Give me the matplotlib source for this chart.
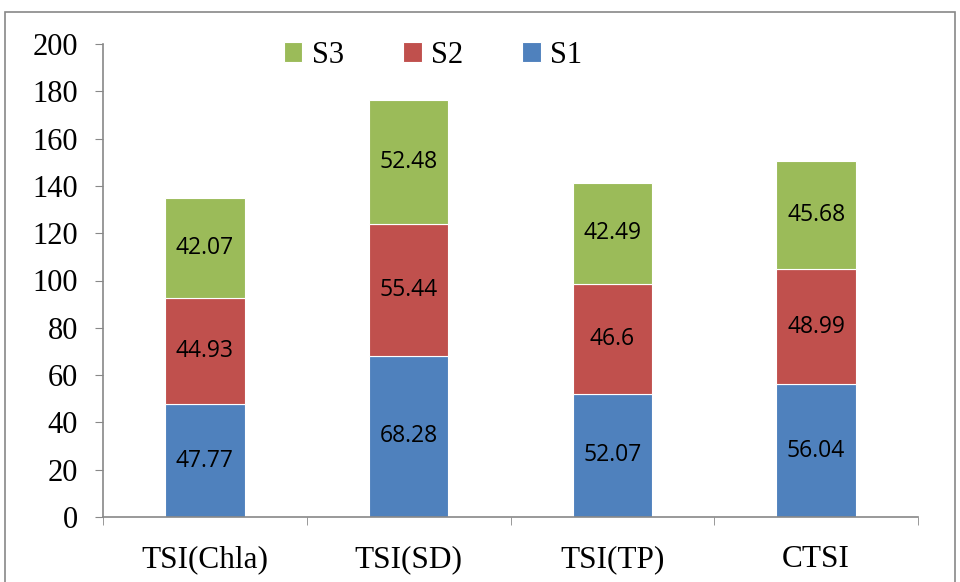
import matplotlib
matplotlib.use("Agg")
import matplotlib.pyplot as plt
from matplotlib.patches import Rectangle

categories = ["TSI(Chla)", "TSI(SD)", "TSI(TP)", "CTSI"]
s1 = [47.77, 68.28, 52.07, 56.04]
s2 = [44.93, 55.44, 46.6, 48.99]
s3 = [42.07, 52.48, 42.49, 45.68]
yticks = [0, 20, 40, 60, 80, 100, 120, 140, 160, 180, 200]

fig = plt.figure(figsize=(9.6, 5.82), dpi=100)
ax = fig.add_axes([103/960, 1-517/582, (918-103)/960, (517-44)/582])

fig.patches.append(Rectangle((5/960, -0.05), 950/960, 1-12/582+0.05, transform=fig.transFigure,
                             fill=False, edgecolor="#888888", linewidth=1.2))

x = list(range(len(categories)))
w = 0.39
c1, c2, c3 = "#4F81BD", "#C0504D", "#9BBB59"
b1 = ax.bar(x, s1, w, color=c1, edgecolor="white", linewidth=0.8, label="S1")
b2 = ax.bar(x, s2, w, bottom=s1, color=c2, edgecolor="white", linewidth=0.8, label="S2")
bot3 = [a + b for a, b in zip(s1, s2)]
b3 = ax.bar(x, s3, w, bottom=bot3, color=c3, edgecolor="white", linewidth=0.8, label="S3")

lab_font = dict(family="Open Sans", fontsize=16.5, color="black")
for bars, vals in ((b1, s1), (b2, s2), (b3, s3)):
    for rect, v in zip(bars, vals):
        ax.text(rect.get_x() + rect.get_width()/2, rect.get_y() + rect.get_height()/2,
                f"{v:g}", ha="center", va="center", **lab_font)

ax.set_xlim(-0.5, len(categories) - 0.5)
ax.set_ylim(0, 200)
ax.set_yticks(yticks)
ax.set_yticklabels([str(t) for t in yticks], family="Liberation Serif", fontsize=22)
ax.set_xticks(x)
ax.set_xticklabels(categories, family="Liberation Serif", fontsize=22.5)
ax.tick_params(axis="x", which="major", length=0, pad=20)
ax.set_xticks([i - 0.5 for i in range(len(categories) + 1)], minor=True)
ax.tick_params(axis="x", which="minor", length=6, color="#888888", direction="out")
ax.tick_params(axis="y", length=6, color="#888888", direction="out", pad=12)
for s in ("top", "right"):
    ax.spines[s].set_visible(False)
for s in ("left", "bottom"):
    ax.spines[s].set_color("#888888")
    ax.spines[s].set_linewidth(1.2)

handles = [b3, b2, b1]
leg = ax.legend(handles, ["S3", "S2", "S1"], ncol=3, loc="upper center",
                bbox_to_anchor=(0.405, 1.065), frameon=False,
                prop=dict(family="Liberation Serif", size=22),
                handlelength=0.6, handleheight=0.6, handletextpad=0.3, columnspacing=1.95)

fig.savefig("out.png", dpi=100)
